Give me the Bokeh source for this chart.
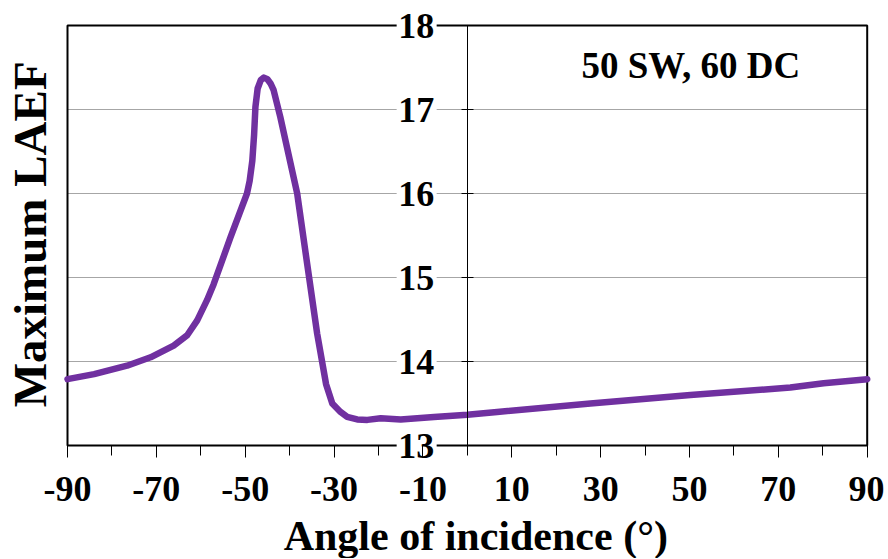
import math
from bokeh.plotting import figure
from bokeh.models import FixedTicker, Label, Range1d, LinearAxis
from bokeh.embed import file_html
from bokeh.resources import INLINE

# ---- data ----
angle = [-90, -84, -76.6, -71.3, -66.1, -63.1, -60.8, -58.6, -57.1, -53.3, -49.6,
         -49.0, -48.4, -48.0, -47.7, -47.2, -46.5, -45.8, -45.0, -44.3, -43.6,
         -42.1, -40.6, -38.3, -36.05, -33.8, -31.8, -30.4, -28.55, -27.05, -24.8,
         -22.5, -19.5, -15.0, -7.5, 0, 6.7, 27.7, 50.2, 72.7, 80.2, 90]
laef = [13.79, 13.85, 13.95, 14.05, 14.19, 14.31, 14.49, 14.73, 14.92, 15.48, 16.0,
        16.15, 16.39, 16.7, 17.03, 17.25, 17.35, 17.38, 17.36, 17.31, 17.23,
        16.91, 16.55, 16.0, 15.16, 14.33, 13.73, 13.5, 13.40, 13.34, 13.31,
        13.305, 13.325, 13.31, 13.34, 13.365, 13.40, 13.50, 13.60, 13.69, 13.74, 13.79]

x_major = [-90, -70, -50, -30, -10, 10, 30, 50, 70, 90]
x_minor = [-80, -60, -40, -20, 0, 20, 40, 60, 80]
y_ticks = [13, 14, 15, 16, 17, 18]
y_grid = [14, 15, 16, 17]
x_title = "Angle of incidence (°)"
y_title = "Maximum  LAEF"
note = "50 SW, 60 DC"
note_x, note_y = 50.3, 17.52

FONT = "Liberation Serif"

# ---- layout (pixels) ----
W, H = 884, 558
FL, FR, FT, FB = 67.0, 866.7, 25.0, 445.0     # visible plot box
xmin, xmax = x_major[0], x_major[-1]
ymin, ymax = y_ticks[0], y_ticks[-1]
sx = (FR - FL) / (xmax - xmin)
sy = (FB - FT) / (ymax - ymin)
x_start = xmin - FL / sx
x_end = x_start + W / sx
y_end = ymax + FT / sy
y_start = y_end - H / sy

p = figure(width=W, height=H, x_range=Range1d(x_start, x_end),
           y_range=Range1d(y_start, y_end),
           x_axis_location=None, y_axis_location=None,
           output_backend="svg", toolbar_location=None,
           min_border=0)
p.title.visible = False
p.grid.visible = False
p.background_fill_color = "white"
p.border_fill_color = "white"
p.outline_line_color = None

# horizontal grid lines
p.segment(x0=[xmin] * len(y_grid), x1=[xmax] * len(y_grid), y0=y_grid, y1=y_grid,
          line_color="#a6a6a6", line_width=1)

# plot box
p.quad(left=[xmin], right=[xmax], bottom=[ymin], top=[ymax],
       fill_color=None, line_color="black", line_width=2)

# white boxes behind the y tick labels (labels sit left of the x=0 axis)
lab_cx = 0 - (466.7 - 416.0) / sx
p.rect(x=[lab_cx] * len(y_ticks), y=y_ticks, width=40, height=30,
       width_units="screen", height_units="screen",
       fill_color="white", line_color=None)

# the curve
p.line(angle, laef, line_color="#7030A0", line_width=6.5,
       line_join="round", line_cap="round")

# x axis along y = 13
xa = LinearAxis(fixed_location=ymin, bounds=(xmin, xmax),
                ticker=FixedTicker(ticks=x_major, minor_ticks=x_minor))
xa.axis_line_color = None
xa.major_tick_in = 0
xa.major_tick_out = 12
xa.minor_tick_in = 0
xa.minor_tick_out = 10
xa.major_tick_line_color = "black"
xa.minor_tick_line_color = "black"
xa.major_tick_line_width = 1
xa.minor_tick_line_width = 1
xa.major_label_overrides = {v: str(v) for v in x_major}
xa.major_label_text_font = FONT
xa.major_label_text_font_style = "bold"
xa.major_label_text_font_size = "36px"
xa.major_label_text_color = "black"
xa.major_label_standoff = 19
p.add_layout(xa, "below")

# y axis along x = 0
ya = LinearAxis(fixed_location=0, bounds=(ymin, ymax),
                ticker=FixedTicker(ticks=y_ticks, minor_ticks=[]))
ya.axis_line_color = "black"
ya.axis_line_width = 1
ya.major_tick_in = 6
ya.major_tick_out = 6
ya.minor_tick_in = 0
ya.minor_tick_out = 0
ya.major_tick_line_color = "black"
ya.major_tick_line_width = 1
ya.major_label_text_font = FONT
ya.major_label_text_font_style = "bold"
ya.major_label_text_font_size = "36px"
ya.major_label_text_color = "black"
ya.major_label_standoff = 27
p.add_layout(ya, "left")

p.add_layout(Label(x=note_x, y=note_y, text=note, text_align="center",
                   text_baseline="middle", text_font=FONT,
                   text_font_style="bold", text_font_size="37px",
                   text_color="black"))

p.add_layout(Label(x=1.9, y=ymin, y_offset=-90, text=x_title, text_align="center",
                   text_baseline="middle", text_font=FONT,
                   text_font_style="bold", text_font_size="42px",
                   text_color="black"))

p.add_layout(Label(x=xmin, y=(ymin + ymax) / 2, x_offset=-38, y_offset=7,
                   angle=math.pi / 2,
                   text=y_title, text_align="center", text_baseline="middle",
                   text_font=FONT, text_font_style="bold", text_font_size="47px",
                   text_color="black"))

open("out.html", "w").write(file_html(p, INLINE))
